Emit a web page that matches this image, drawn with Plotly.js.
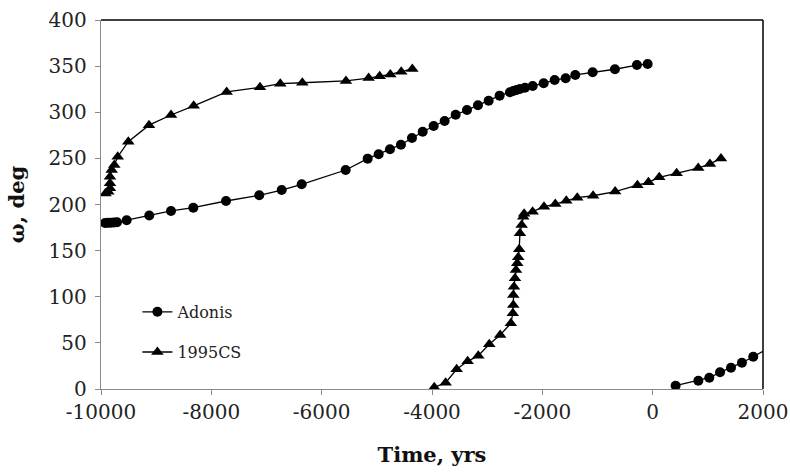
<!DOCTYPE html>
<html>
<head>
<meta charset="utf-8">
<script src="https://cdn.plot.ly/plotly-3.0.1.min.js"></script>
<style>html,body{margin:0;padding:0;background:#fff;}#chart{width:790px;height:472px;}</style>
</head>
<body>
<div id="chart"></div>
<script>
// Adonis, two branches (omega wraps at 360)
const adonisTime1 = [-9927,-9873,-9819,-9764,-9710,-9535,-9125,-8731,-8327,-7734,-7131,-6725,-6362,-5565,-5166,-4967,-4762,-4563,-4363,-4169,-3970,-3771,-3571,-3366,-3167,-2973,-2774,-2587,-2527,-2466,-2406,-2315,-2175,-1976,-1777,-1577,-1403,-1088,-684,-285,-91];
const adonisOmega1 = [180,180.1,180.2,180.4,180.7,183,188,193,196.5,203.8,210,215.7,221.9,237.4,249.7,254.4,259.8,264.8,272.1,278.9,285.1,290.5,297.3,302.4,307.5,312.5,318,321.6,323,324.1,325.2,326.6,328.5,331.4,335,336.8,340.4,343.3,346.6,351.2,352.3];
const adonisTime2 = [416,828,1027,1221,1420,1618,1823,2210];
const adonisOmega2 = [3.6,9,12.2,18.1,23.1,28.5,35,48];

// 1995CS, two branches
const csTime1 = [-9920,-9868,-9837,-9837,-9837,-9806,-9759,-9697,-9505,-9130,-8731,-8320,-7722,-7118,-6750,-6351,-5560,-5148,-4949,-4756,-4557,-4357];
const csOmega1 = [212,213.9,217.6,223,230,237.4,242.8,251.8,268.1,286,297,307,322,327,331,332,334,337,339,341,344,347];
const csTime2 = [-3959,-3753,-3553,-3354,-3161,-2962,-2764,-2571,-2535,-2527,-2527,-2514,-2496,-2478,-2455,-2437,-2419,-2406,-2375,-2346,-2330,-2176,-1970,-1765,-1566,-1367,-1080,-680,-277,-77,119,434,826,1038,1238];
const csOmega2 = [1.8,6.8,21.3,30,36.1,48.5,58.5,71.2,82,91,101.9,110.9,120,129,136.3,142.8,151.4,168.8,177.8,186.8,190,192.2,197.6,200.5,204.1,207.4,209.5,214,221,224,229.5,234,239.5,244,250];

const xTickVals = [-10000,-8000,-6000,-4000,-2000,0,2000];
const xTickText = ['-10000','-8000','-6000','-4000','-2000','0','2000'];
const yTickVals = [0,50,100,150,200,250,300,350,400];

const seriesNames = ['Adonis','1995CS'];
const xTitle = 'Time, yrs';
const yTitle = 'ω, deg';

function join(a, b) { return a.concat([null], b); }

const serif = 'DejaVu Serif, serif';

const traces = [
  {
    x: join(adonisTime1, adonisTime2), y: join(adonisOmega1, adonisOmega2),
    name: seriesNames[0], type: 'scatter', mode: 'lines+markers', connectgaps: false,
    line: {color: '#000', width: 1.3},
    marker: {symbol: 'circle', size: 10, color: '#000'},
    legend: 'legend'
  },
  {
    x: join(csTime1, csTime2), y: join(csOmega1, csOmega2),
    name: seriesNames[1], type: 'scatter', mode: 'lines+markers', connectgaps: false,
    line: {color: '#000', width: 1.3},
    marker: {symbol: 'triangle-up', size: 11, color: '#000'},
    legend: 'legend2'
  }
];

const layout = {
  width: 790, height: 472,
  margin: {l: 101, r: 27, t: 20, b: 83},
  paper_bgcolor: '#fff', plot_bgcolor: '#fff',
  font: {family: serif, size: 20, color: '#222'},
  xaxis: {
    range: [-10000, 2000], tickvals: xTickVals, ticktext: xTickText,
    showgrid: false, zeroline: false, showline: true, linecolor: '#8a8a8a', linewidth: 1.3,
    ticks: 'outside', ticklen: 5, tickcolor: '#8a8a8a',
    tickfont: {family: serif, size: 20, color: '#222'},
    title: {text: '<b>' + xTitle + '</b>', font: {family: serif, size: 21, color: '#111'}, standoff: 24}
  },
  yaxis: {
    range: [0, 400], tickvals: yTickVals,
    showgrid: false, zeroline: false, showline: true, linecolor: '#8a8a8a', linewidth: 1.3,
    ticks: 'outside', ticklen: 5, tickcolor: '#8a8a8a', ticklabelstandoff: 4,
    tickfont: {family: serif, size: 20, color: '#222'},
    title: {text: '<b>' + yTitle + '</b>', font: {family: serif, size: 21, color: '#111'}, standoff: 18}
  },
  legend: {x: 0.055, y: 0.209, xanchor: 'left', yanchor: 'middle', bgcolor: 'rgba(0,0,0,0)',
           font: {family: serif, size: 16, color: '#222'}},
  legend2: {x: 0.055, y: 0.100, xanchor: 'left', yanchor: 'middle', bgcolor: 'rgba(0,0,0,0)',
           font: {family: serif, size: 16, color: '#222'}},
  shapes: [
    {type: 'line', xref: 'paper', yref: 'paper', x0: 0, x1: 1, y0: 1, y1: 1, line: {color: '#000', width: 1.5}},
    {type: 'line', xref: 'paper', yref: 'paper', x0: 1, x1: 1, y0: 0, y1: 1, line: {color: '#000', width: 1.5}}
  ],
  showlegend: true
};

Plotly.newPlot('chart', traces, layout, {displayModeBar: false, staticPlot: true});
</script>
</body>
</html>
